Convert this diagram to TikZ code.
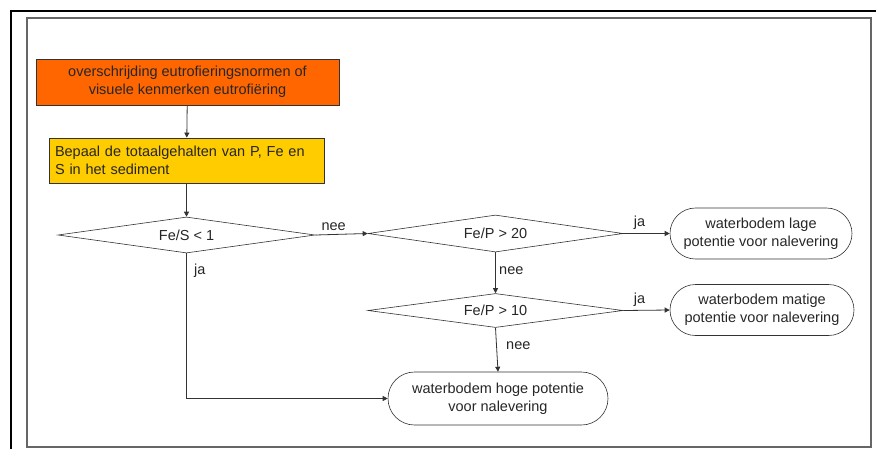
\documentclass[tikz,border=0pt]{standalone}
\usepackage{fontspec}
\setmainfont{Liberation Sans}
\usetikzlibrary{shapes.geometric,shapes.misc,arrows.meta}
\definecolor{lineclr}{HTML}{333333}
\definecolor{orangefill}{HTML}{FF6600}
\definecolor{yellowfill}{HTML}{FFCC00}
\tikzset{
  every node/.style={font=\fontsize{14.5}{18}\selectfont, text=black!85},
  actbox/.style={draw=lineclr, line width=0.8pt, minimum height=46pt, inner sep=0pt},
  decision/.style={diamond, draw=lineclr, line width=0.6pt, aspect=7, inner sep=0pt},
  outcome/.style={rounded rectangle, draw=lineclr, line width=0.6pt, align=center, inner sep=0pt},
  flow/.style={draw=lineclr, line width=0.8pt, -{Triangle[length=5pt,width=5pt]}},
  lbl/.style={font=\fontsize{14.5}{16}\selectfont}
}
\begin{document}
\begin{tikzpicture}[x=1pt,y=-1pt]
  \useasboundingbox (0,0) rectangle (876,448);
  % page frames
  \draw[black, line width=2pt] (11,460) -- (11,11) -- (890,11);
  \draw[black!60, line width=1.4pt] (27,447) -- (27,18) -- (871,18) -- (871,447) -- cycle;

  % process boxes
  \node[actbox, fill=orangefill, minimum width=303pt, align=center] (start) at (187.5,82)
    {overschrijding eutrofieringsnormen of\\visuele kenmerken eutrofiëring};
  \node[actbox, fill=yellowfill, minimum width=275pt, text width=263pt, align=left, minimum height=45pt] (bepaal) at (186.5,160.5)
    {Bepaal de totaalgehalten van P, Fe en\\S in het sediment};

  % decisions
  \node[decision, minimum width=257pt, minimum height=36pt] (d1) at (186.5,235) {Fe/S < 1};
  \node[decision, minimum width=255pt, minimum height=37pt] (d2) at (495.5,233.5) {Fe/P > 20};
  \node[decision, minimum width=255pt, minimum height=34pt] (d3) at (495.5,310.5) {Fe/P > 10};

  % outcomes
  \node[outcome, minimum width=182pt, minimum height=51pt] (lage) at (761,233.5)
    {waterbodem lage\\potentie voor nalevering};
  \node[outcome, minimum width=184pt, minimum height=51pt] (matige) at (762,310)
    {waterbodem matige\\potentie voor nalevering};
  \node[outcome, minimum width=220pt, minimum height=53pt] (hoge) at (498,398.5)
    {waterbodem hoge potentie\\voor nalevering};

  % connectors
  \draw[flow] (start) -- (bepaal);
  \draw[flow] (bepaal) -- (d1);
  \draw[flow] (d1.east) -- node[lbl, above, pos=0.35] {nee} (d2.west);
  \draw[flow] (d2.east) -- node[lbl, above, pos=0.35] {ja} (lage.west);
  \draw[flow] (d2.south) -- node[lbl, right, pos=0.45] {nee} (d3.north);
  \draw[flow] (d3.east) -- node[lbl, above, pos=0.35] {ja} (matige.west);
  \draw[flow] (d3.south) -- node[lbl, right, pos=0.4, xshift=6pt] {nee} (hoge.north);
  \draw[flow] (d1.south) -- node[lbl, right, pos=0.12, xshift=4pt] {ja} (d1.south |- hoge.west) -- (hoge.west);
\end{tikzpicture}
\end{document}
